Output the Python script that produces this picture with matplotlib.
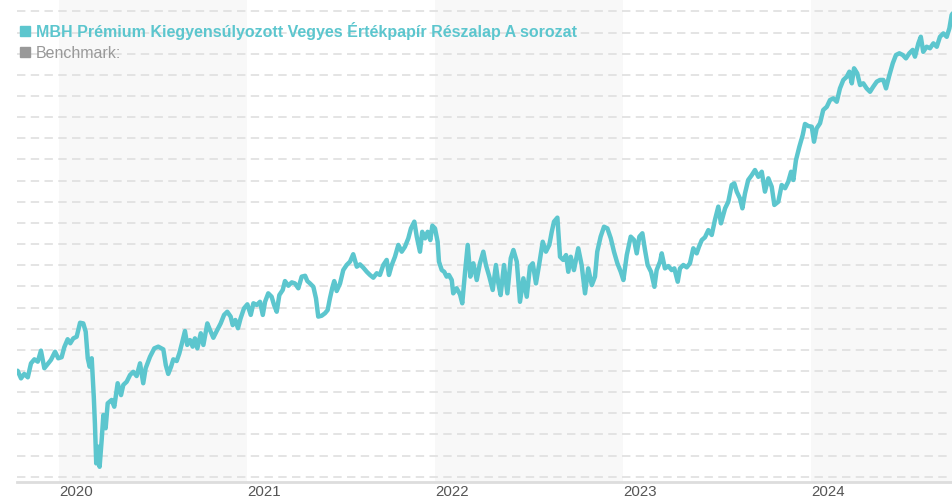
import matplotlib
matplotlib.use("Agg")
import matplotlib.pyplot as plt
from matplotlib.lines import Line2D

plt.rcParams['font.family'] = ['Liberation Sans', 'DejaVu Sans']

# ---- data (decimal year, fund value in chart units) ----
ev_a = [2019.780, 2019.798, 2019.815, 2019.834, 2019.851, 2019.869, 2019.887, 2019.904, 2019.922, 2019.940,
        2019.957, 2019.979, 2019.996, 2020.014, 2020.028, 2020.046, 2020.060, 2020.076, 2020.094, 2020.112,
        2020.129, 2020.142, 2020.153, 2020.163, 2020.174, 2020.185, 2020.191, 2020.198, 2020.209, 2020.216,
        2020.227, 2020.236, 2020.248, 2020.259, 2020.280, 2020.294, 2020.312, 2020.330, 2020.342, 2020.360,
        2020.378, 2020.395, 2020.413, 2020.431, 2020.448, 2020.461, 2020.484, 2020.507, 2020.528, 2020.555,
        2020.568, 2020.581, 2020.596, 2020.608]
ertek_a = [5.01, 4.65, 4.86, 4.70, 5.36, 5.55, 5.44, 5.96, 5.13, 5.33,
           5.52, 5.91, 5.60, 5.65, 6.12, 6.50, 6.31, 6.54, 6.62, 7.28,
           7.25, 6.86, 5.60, 5.20, 5.60, 3.78, 2.52, 0.63, 1.42, 0.47,
           1.74, 2.92, 2.29, 3.47, 3.63, 3.31, 4.42, 3.86, 4.34, 4.49,
           4.81, 4.96, 4.76, 5.36, 4.42, 5.13, 5.67, 6.07, 6.15, 6.02,
           5.28, 4.86, 5.20, 5.55]

ev_b = [2020.626, 2020.640, 2020.654, 2020.670, 2020.682, 2020.697, 2020.711, 2020.723, 2020.736, 2020.754,
        2020.768, 2020.789, 2020.803, 2020.821, 2020.839, 2020.860, 2020.878, 2020.895, 2020.913, 2020.924,
        2020.938, 2020.952, 2020.966, 2020.984, 2021.002, 2021.020, 2021.034, 2021.052, 2021.069, 2021.084,
        2021.096, 2021.113, 2021.131, 2021.144, 2021.158, 2021.172, 2021.190, 2021.202, 2021.220, 2021.238,
        2021.255, 2021.273, 2021.291, 2021.309, 2021.321, 2021.335, 2021.353, 2021.367, 2021.379, 2021.397,
        2021.415]
ertek_b = [5.47, 5.83, 6.31, 6.89, 6.23, 6.46, 6.15, 6.54, 6.07, 6.78,
           6.23, 7.25, 6.94, 6.57, 6.89, 7.25, 7.65, 7.80, 7.57, 7.17,
           7.41, 7.02, 7.49, 7.96, 8.15, 7.65, 8.20, 8.12, 8.27, 7.65,
           8.27, 8.67, 8.51, 8.12, 7.80, 8.59, 8.83, 9.25, 9.03, 9.19,
           9.14, 8.91, 9.46, 9.50, 9.25, 9.14, 8.98, 8.43, 7.57, 7.61,
           7.73]

ev_c = [2021.429, 2021.441, 2021.454, 2021.464, 2021.477, 2021.495, 2021.512, 2021.530, 2021.548, 2021.565,
        2021.584, 2021.601, 2021.619, 2021.637, 2021.654, 2021.672, 2021.690, 2021.707, 2021.725, 2021.743,
        2021.755, 2021.770, 2021.787, 2021.805, 2021.823, 2021.840, 2021.858, 2021.872, 2021.890, 2021.903,
        2021.920, 2021.932, 2021.947, 2021.961, 2021.975, 2021.986, 2022.000, 2022.014, 2022.021, 2022.036,
        2022.049, 2022.062, 2022.074, 2022.089, 2022.097, 2022.115, 2022.133, 2022.145, 2022.160, 2022.174,
        2022.188, 2022.204, 2022.222, 2022.239, 2022.257]
ertek_c = [7.88, 8.43, 8.94, 9.25, 8.78, 9.14, 9.77, 10.01, 10.17, 10.52,
           9.93, 10.04, 9.88, 9.69, 9.54, 9.41, 9.62, 9.54, 10.01, 10.25,
           9.54, 10.01, 10.40, 10.96, 10.64, 10.87, 11.27, 11.74, 12.06, 11.35,
           10.64, 11.58, 11.27, 11.58, 11.19, 11.87, 11.74, 11.11, 10.17, 9.77,
           9.69, 9.46, 9.54, 9.30, 8.67, 8.91, 8.62, 8.20, 9.69, 10.96,
           9.46, 10.09, 9.30, 10.09, 10.64]

ev_d = [2022.271, 2022.289, 2022.307, 2022.324, 2022.337, 2022.349, 2022.367, 2022.385, 2022.403, 2022.417,
        2022.435, 2022.452, 2022.470, 2022.488, 2022.505, 2022.520, 2022.537, 2022.555, 2022.573, 2022.590,
        2022.608, 2022.621, 2022.633, 2022.651, 2022.665, 2022.682, 2022.697, 2022.709, 2022.722, 2022.739,
        2022.762, 2022.780, 2022.798, 2022.815, 2022.834, 2022.851, 2022.863, 2022.881, 2022.899, 2022.917,
        2022.935, 2022.952, 2022.970, 2022.988, 2023.002, 2023.020, 2023.041, 2023.059, 2023.073, 2023.087]
ertek_d = [10.01, 9.46, 8.83, 10.01, 9.14, 8.59, 10.01, 8.67, 10.33, 10.72,
           10.17, 8.27, 9.38, 8.51, 9.93, 10.09, 9.14, 10.09, 11.11, 10.64,
           10.96, 11.58, 12.06, 12.25, 10.40, 10.25, 10.48, 9.69, 10.40, 9.77,
           10.80, 10.01, 8.67, 9.85, 9.06, 9.46, 10.64, 11.35, 11.82, 11.74,
           11.27, 10.64, 10.09, 9.69, 9.30, 10.48, 11.35, 11.19, 10.56, 11.35]

ev_e = [2023.103, 2023.117, 2023.131, 2023.149, 2023.167, 2023.179, 2023.197, 2023.206, 2023.223, 2023.241,
        2023.259, 2023.273, 2023.291, 2023.303, 2023.321, 2023.339, 2023.356, 2023.374, 2023.392, 2023.404,
        2023.419, 2023.436, 2023.454, 2023.472, 2023.489, 2023.507, 2023.521, 2023.543, 2023.560, 2023.578,
        2023.592, 2023.605, 2023.622, 2023.635, 2023.649, 2023.666, 2023.685, 2023.702, 2023.720, 2023.738,
        2023.755, 2023.773, 2023.791, 2023.805, 2023.826, 2023.844, 2023.862, 2023.879, 2023.894]
ertek_e = [11.51, 10.72, 10.01, 9.69, 8.98, 9.77, 10.17, 10.56, 9.85, 9.96,
           9.77, 9.85, 9.22, 9.85, 10.01, 9.90, 10.09, 10.80, 10.56, 10.87,
           11.19, 11.32, 11.66, 11.43, 12.14, 12.77, 11.98, 12.69, 13.00, 13.79,
           13.87, 13.48, 13.16, 12.69, 13.40, 14.03, 14.26, 14.50, 14.18, 14.42,
           13.48, 14.11, 13.71, 12.85, 13.00, 13.79, 13.64, 13.95, 14.42]

ev_f = [2023.906, 2023.920, 2023.938, 2023.956, 2023.968, 2023.986, 2024.004, 2024.016, 2024.030, 2024.048,
        2024.065, 2024.084, 2024.101, 2024.119, 2024.137, 2024.154, 2024.172, 2024.190, 2024.204, 2024.217,
        2024.229, 2024.246, 2024.261, 2024.278, 2024.296, 2024.314, 2024.331, 2024.350, 2024.367, 2024.385,
        2024.399, 2024.417, 2024.435, 2024.452, 2024.470, 2024.488, 2024.505, 2024.523, 2024.541, 2024.553,
        2024.571, 2024.584, 2024.597, 2024.615, 2024.633, 2024.651, 2024.669, 2024.686, 2024.704, 2024.722,
        2024.736, 2024.748, 2024.754]
ertek_f = [14.03, 14.97, 15.60, 16.16, 16.68, 16.58, 16.55, 15.84, 16.47, 16.71,
           17.34, 17.49, 17.81, 17.89, 17.73, 18.36, 18.76, 18.91, 19.15, 18.60,
           19.31, 19.07, 18.52, 18.60, 18.36, 18.20, 18.44, 18.68, 18.76, 18.76,
           18.36, 18.99, 19.55, 19.94, 20.02, 19.94, 19.78, 20.02, 20.18, 19.86,
           20.49, 20.80, 20.09, 20.33, 20.26, 20.49, 20.33, 20.80, 20.96, 20.80,
           21.20, 21.83, 21.91]

tick_years = [2020, 2021, 2022, 2023, 2024]
tick_labels = ["2020", "2021", "2022", "2023", "2024"]
shaded_years = [2020, 2022, 2024]
series_name = "MBH Prémium Kiegyensúlyozott Vegyes Értékpapír Részalap A sorozat"
benchmark_name = "Benchmark:"

ev = ev_a + ev_b + ev_c + ev_d + ev_e + ev_f
ertek = ertek_a + ertek_b + ertek_c + ertek_d + ertek_e + ertek_f

# ---- style ----
TEAL = "#5cc6ce"
GRAY = "#999999"

fig = plt.figure(figsize=(9.53, 5.0), dpi=100)
ax = fig.add_axes([17 / 953, 18 / 500, 1 - 17 / 953, 1 - 18 / 500])

for y in shaded_years:
    ax.axvspan(y, y + 1, color="#f8f8f8", zorder=0, lw=0)

ax.plot(ev, ertek, color=TEAL, lw=3.2, solid_joinstyle="round", solid_capstyle="round", zorder=3)

ax.set_xlim(2019.7766, 2024.7553)
ax.set_ylim(-0.25, 22.54)

ax.set_yticks(range(0, 23))
ax.set_yticklabels([])
ax.yaxis.grid(True, color="#dddddd", lw=1.1, linestyle=(0, (5.5, 3.5)))
ax.set_axisbelow(True)
ax.tick_params(axis="y", length=0)

ax.set_xticks(tick_years)
ax.set_xticklabels(tick_labels, fontsize=10.8, color="#555555")
ax.tick_params(axis="x", length=0, pad=2.5)
for lab in ax.get_xticklabels():
    lab.set_horizontalalignment("left")

for s in ["left", "right", "top"]:
    ax.spines[s].set_visible(False)
ax.spines["bottom"].set_color("#dddddd")
ax.spines["bottom"].set_linewidth(2)

handles = [Line2D([], [], marker="s", ls="", color=TEAL, ms=6.8),
           Line2D([], [], marker="s", ls="", color=GRAY, ms=6.8)]
leg = ax.legend(handles, [series_name, benchmark_name], loc="upper left",
                bbox_to_anchor=(19 / 953, 1 - 22 / 500), bbox_transform=fig.transFigure,
                frameon=False, fontsize=11.5, borderpad=0, borderaxespad=0,
                handlelength=0.7, handletextpad=0.36, labelspacing=0.38,
                labelcolor=[TEAL, GRAY])
leg.get_texts()[0].set_fontweight("bold")
leg.set_zorder(5)

fig.savefig("out.png", dpi=100)
